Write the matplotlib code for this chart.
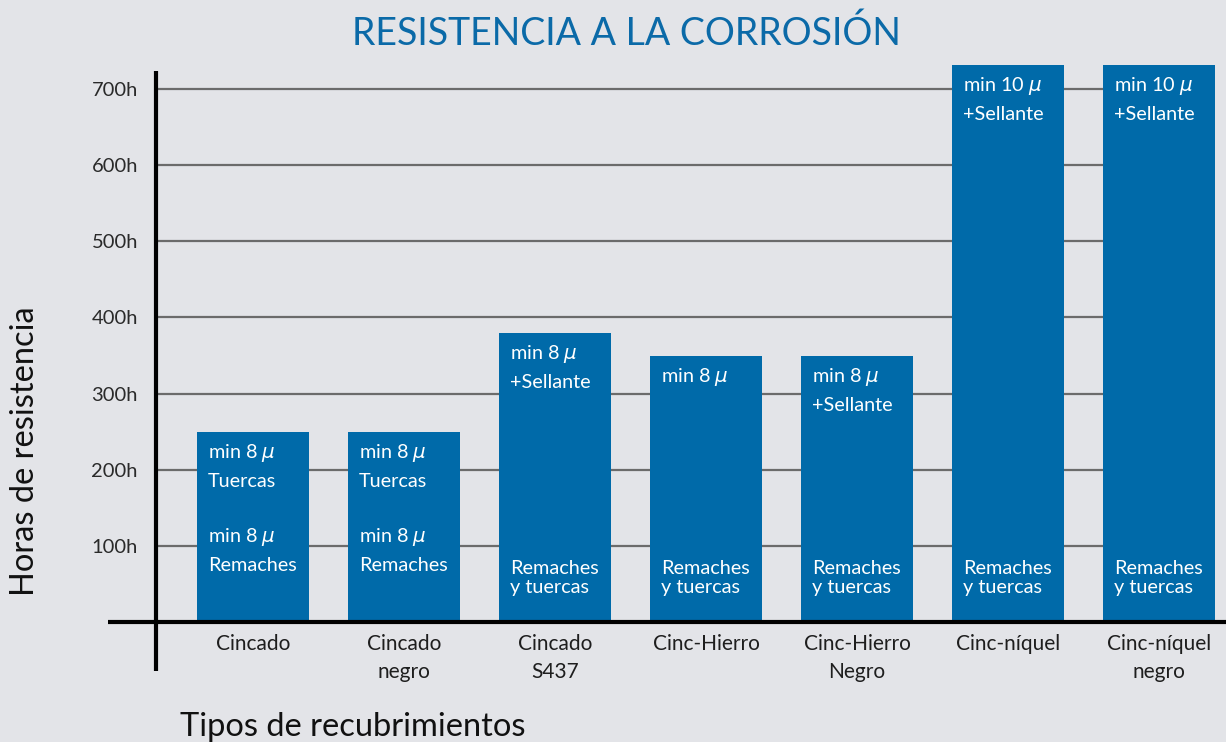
import matplotlib
matplotlib.use("Agg")
import matplotlib.pyplot as plt

# Coating types and salt-spray resistance hours
categorias = ["Cincado", "Cincado\nnegro", "Cincado\nS437", "Cinc-Hierro",
              "Cinc-Hierro\nNegro", "Cinc-níquel", "Cinc-níquel\nnegro"]
horas = [250, 250, 380, 350, 350, 732, 732]

notas_sup = ["min 8 $\\mu$\nTuercas", "min 8 $\\mu$\nTuercas",
             "min 8 $\\mu$\n+Sellante", "min 8 $\\mu$",
             "min 8 $\\mu$\n+Sellante", "min 10 $\\mu$\n+Sellante",
             "min 10 $\\mu$\n+Sellante"]
notas_inf = ["min 8 $\\mu$\nRemaches", "min 8 $\\mu$\nRemaches",
             "Remaches\ny tuercas", "Remaches\ny tuercas",
             "Remaches\ny tuercas", "Remaches\ny tuercas",
             "Remaches\ny tuercas"]
yticks = [100, 200, 300, 400, 500, 600, 700]

fondo = "#e3e4e8"
azul = "#006aa9"

plt.rcParams["font.family"] = ["Lato", "DejaVu Sans"]
plt.rcParams["mathtext.fontset"] = "dejavusans"

fig = plt.figure(figsize=(12.26, 7.42), dpi=100, facecolor=fondo)
ax = fig.add_axes([156 / 1226, 120 / 742, 1070 / 1226, 558 / 742])
ax.set_facecolor(fondo)
ax.set_xlim(-0.642, 6.444)
ax.set_ylim(0, 733)
for s in ax.spines.values():
    s.set_visible(False)

# horizontal guides
ax.hlines(yticks, -0.642, 6.371, color="#6b6b6b", lw=1.6, zorder=1)

x = list(range(len(categorias)))
ancho = 0.742
ax.bar(x, horas, width=ancho, color=azul, zorder=2)

for i, h in enumerate(horas):
    izq = i - ancho / 2
    ax.annotate(notas_sup[i], xy=(izq, h), xytext=(11, -10),
                textcoords="offset pixels", ha="left", va="top",
                color="white", fontsize=14.3, linespacing=1.65, zorder=4)
    if notas_inf[i].startswith("min"):
        ax.annotate(notas_inf[i], xy=(izq, 0), xytext=(11, 72),
                    textcoords="offset pixels", ha="left", va="center",
                    color="white", fontsize=14.3, linespacing=1.65, zorder=4)
    else:
        ax.annotate(notas_inf[i], xy=(izq, 0), xytext=(11, 44),
                    textcoords="offset pixels", ha="left", va="center",
                    color="white", fontsize=14.3, linespacing=1.18, zorder=4)

# axis lines
ax.plot([-0.96, 6.444], [0, 0], color="black", lw=3, clip_on=False,
        solid_capstyle="butt", zorder=5)
ax.plot([-0.642, -0.642], [-64, 724], color="black", lw=3, clip_on=False,
        solid_capstyle="butt", zorder=5)

ax.set_yticks(yticks)
ax.set_yticklabels([f"{v}h" for v in yticks], fontsize=14.5, color="#2a2a2a")
ax.tick_params(axis="y", length=0, pad=13)
ax.set_xticks(x)
ax.set_xticklabels(categorias, fontsize=15, color="#1e1e1e", linespacing=1.45)
ax.tick_params(axis="x", length=0, pad=9)

fig.text(626 / 1226, 1 - 34 / 742, "RESISTENCIA A LA CORROSIÓN", ha="center",
         va="center", fontsize=27, color="#0b6aa8")
fig.text(25 / 1226, 1 - 451 / 742, "Horas de resistencia", rotation=90,
         ha="center", va="center", fontsize=23.5, color="#111111")
fig.text(180 / 1226, 1 - 727 / 742, "Tipos de recubrimientos", ha="left",
         va="center", fontsize=23.5, color="#111111")

fig.savefig("out.png", dpi=100, facecolor=fondo)
